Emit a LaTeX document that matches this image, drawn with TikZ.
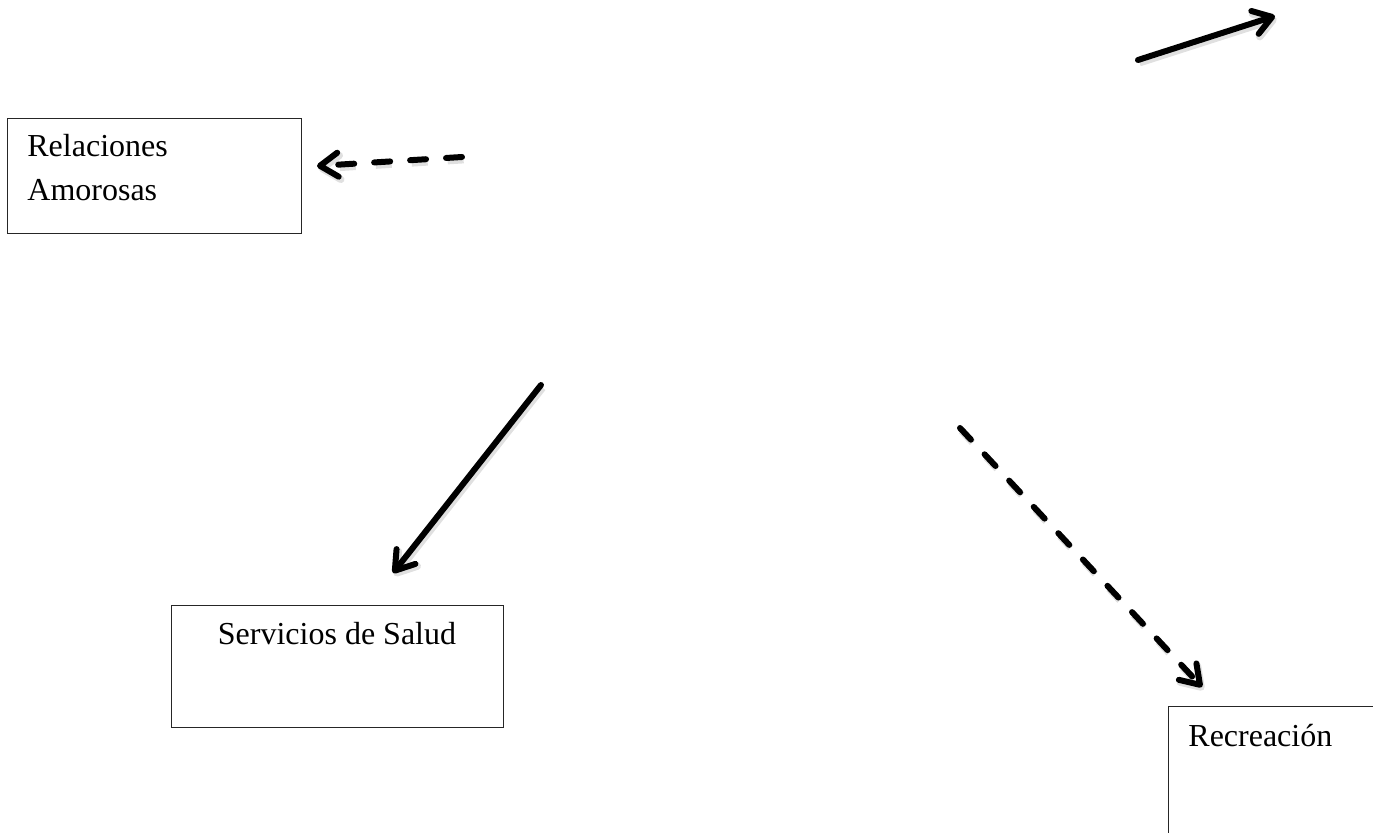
\documentclass[tikz,border=0pt]{standalone}
\usepackage{fontspec}
\setmainfont{Liberation Serif}
\usetikzlibrary{arrows.meta}
\begin{document}
\begin{tikzpicture}[x=0.5pt,y=-0.5pt,
  boxstyle/.style={draw=black!85, line width=0.6pt, inner sep=0pt},
  lbl/.style={inner sep=0pt, font=\fontsize{16}{22}\selectfont, align=left},
  arr/.style={line width=3pt, line cap=round,
    -{Straight Barb[length=9pt,width=12pt,round]}},
  dsh/.style={arr, dash pattern=on 8pt off 10pt},
  shadowed/.style={preaction={draw=black, opacity=0.12, line width=3.6pt,
    transform canvas={shift={(0.8pt,-1.4pt)}}}},
  dshadowed/.style={preaction={draw=black, opacity=0.12, line width=3.6pt,
    dash pattern=on 8pt off 10pt,
    transform canvas={shift={(0.8pt,-1.4pt)}}}}]
\useasboundingbox (0,0) rectangle (1373,833);
\clip (0,0) rectangle (1373,833);
% boxes
\node[boxstyle, minimum width=147pt, minimum height=57.5pt, anchor=north west] (relbox) at (7,118) {};
\node[boxstyle, minimum width=166pt, minimum height=61pt, anchor=north west] (salbox) at (171,605) {};
\node[boxstyle, minimum width=130pt, minimum height=80pt, anchor=north west] (recbox) at (1168,706) {};
% texts
\node[lbl, anchor=base west] (reltxt) at (27,201) {Relaciones\\Amorosas};
\node[lbl, anchor=base] (saltxt) at (337,645) {Servicios de Salud};
\node[lbl, anchor=base west] (rectxt) at (1188,747) {Recreación};
% arrow end points
\coordinate (a1s) at (1138,60);
\coordinate (a1e) at (1275,16);
\coordinate (a2s) at (462,157);
\coordinate (a2e) at (317,166);
\coordinate (a3s) at (541,385);
\coordinate (a3e) at (393,573);
\coordinate (a4s) at (960,428);
\coordinate (a4e) at (1202,687);
% arrows
\draw[arr, shadowed] (a1s) -- (a1e);
\draw[dsh, dshadowed] (a2s) -- (a2e);
\draw[arr, shadowed] (a3s) -- (a3e);
\draw[dsh, dshadowed] (a4s) -- (a4e);
\end{tikzpicture}
\end{document}
